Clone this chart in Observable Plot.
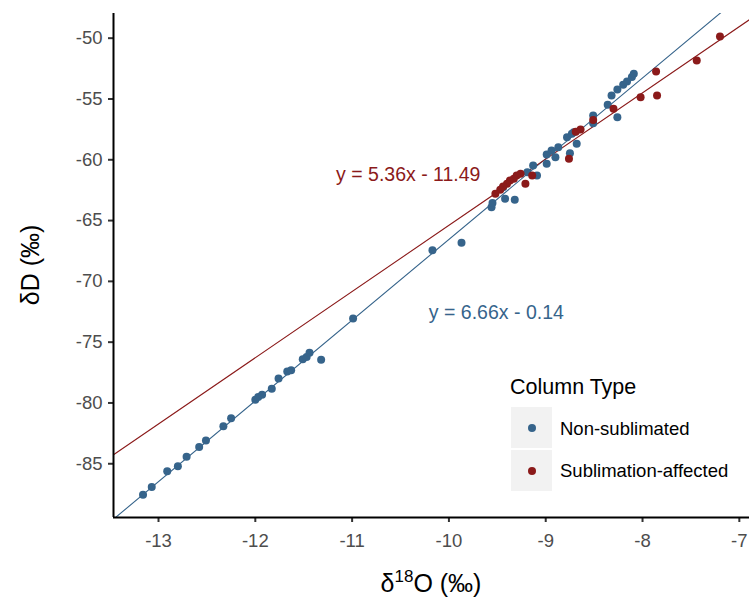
<!DOCTYPE html>
<html>
<head>
<meta charset="utf-8">
<script src="https://cdn.jsdelivr.net/npm/d3@7"></script>
<script src="https://cdn.jsdelivr.net/npm/@observablehq/plot@0.6"></script>
<style>
  html, body { margin: 0; padding: 0; background: #fff; }
  #wrap { position: relative; width: 752px; height: 605px; font-family: "Liberation Sans", Arial, sans-serif; }
  .abs { position: absolute; white-space: nowrap; }
  .key { position: absolute; width: 41px; height: 41px; background: #f2f2f2; }
  .kdot { position: absolute; left: 16.5px; top: 16.5px; width: 8px; height: 8px; border-radius: 50%; }
</style>
</head>
<body>
<div id="wrap"></div>
<script>
// Non-sublimated (blue)
const nonSubX = [-13.16,-13.07,-12.91,-12.80,-12.71,-12.58,-12.51,-12.33,-12.25,-12.00,-11.97,-11.93,-11.83,-11.76,-11.67,-11.63,-11.51,-11.47,-11.44,-11.32,-10.99,-10.17,-9.87,-9.56,-9.55,-9.42,-9.32,-9.44,-9.19,-9.09,-9.13,-8.99,-8.99,-8.94,-8.90,-8.87,-8.75,-8.78,-8.73,-8.68,-8.71,-8.51,-8.51,-8.26,-8.36,-8.32,-8.26,-8.20,-8.16,-8.11,-8.09];
const nonSubY = [-87.55,-86.92,-85.61,-85.20,-84.42,-83.63,-83.08,-81.91,-81.25,-79.74,-79.52,-79.33,-78.83,-77.98,-77.41,-77.30,-76.40,-76.23,-75.87,-76.45,-73.05,-67.45,-66.83,-63.90,-63.55,-63.21,-63.29,-62.25,-61.02,-61.29,-60.47,-60.33,-59.56,-59.24,-59.79,-58.96,-59.46,-58.14,-57.86,-58.69,-57.73,-57.00,-56.36,-56.50,-55.48,-54.71,-54.22,-53.83,-53.56,-53.20,-52.93];
// Sublimation-affected (red)
const subX = [-7.20,-7.44,-7.86,-7.85,-8.02,-8.30,-8.51,-8.64,-8.69,-8.76,-9.14,-9.21,-9.26,-9.30,-9.33,-9.37,-9.40,-9.44,-9.47,-9.52];
const subY = [-49.86,-51.83,-52.74,-54.71,-54.85,-55.81,-56.72,-57.50,-57.70,-59.92,-61.29,-61.97,-61.15,-61.29,-61.57,-61.70,-61.97,-62.20,-62.47,-62.80];

const groups = ["Non-sublimated", "Sublimation-affected"];
const colors = ["#36648B", "#8B1A1A"];
const eqLabels = ["y = 6.66x - 0.14", "y = 5.36x - 11.49"];
const eqX = [-9.51, -10.42];
const eqY = [-72.6, -61.2];

const xTicks = [-13, -12, -11, -10, -9, -8, -7];
const yTicks = [-85, -80, -75, -70, -65, -60, -55, -50];
const xDomain = [-13.465, -6.895];
const yDomain = [-89.42, -47.97];

const seriesX = [nonSubX, subX];
const seriesY = [nonSubY, subY];

const points = [];
groups.forEach((g, i) => seriesX[i].forEach((x, j) => points.push({x, y: seriesY[i][j], g})));

// least-squares fits, drawn over the full x range (fullrange)
function fit(xs, ys) {
  const mx = d3.mean(xs), my = d3.mean(ys);
  let sxy = 0, sxx = 0;
  xs.forEach((x, k) => { sxy += (x - mx) * (ys[k] - my); sxx += (x - mx) ** 2; });
  const b = sxy / sxx;
  return [b, my - b * mx];
}
const fitLines = [];
groups.forEach((g, i) => {
  const [b, a] = fit(seriesX[i], seriesY[i]);
  xDomain.forEach(x => fitLines.push({x, y: a + b * x, g}));
});
const eqs = groups.map((g, i) => ({x: eqX[i], y: eqY[i], text: eqLabels[i], g}));

const plot = Plot.plot({
  width: 752,
  height: 605,
  marginLeft: 113,
  marginRight: 3,
  marginTop: 13,
  marginBottom: 88,
  style: {fontFamily: "Liberation Sans, Arial, sans-serif", background: "white"},
  x: {domain: xDomain, ticks: xTicks, label: null},
  y: {domain: yDomain, ticks: yTicks, label: null},
  color: {domain: groups, range: colors},
  marks: [
    Plot.line(fitLines, {x: "x", y: "y", z: "g", stroke: "g", strokeWidth: 1.1, clip: true}),
    Plot.dot(points, {x: "x", y: "y", fill: "g", r: 4}),
    Plot.text(eqs, {x: "x", y: "y", text: "text", fill: "g", fontSize: 19.5}),
    Plot.axisX({ticks: xTicks, tickSize: 5, tickPadding: 11, strokeWidth: 2, stroke: "#333", fill: "#4d4d4d", fontSize: 18.5, label: null, tickFormat: d => String(d)}),
    Plot.axisY({ticks: yTicks, tickSize: 5, tickPadding: 6, strokeWidth: 2, stroke: "#333", fill: "#4d4d4d", fontSize: 18.5, label: null, tickFormat: d => String(d)}),
    Plot.ruleX([xDomain[0]], {stroke: "black", strokeWidth: 2}),
    Plot.ruleY([yDomain[0]], {stroke: "black", strokeWidth: 2})
  ]
});

const wrap = document.getElementById("wrap");
plot.style.position = "absolute";
plot.style.left = "0px";
plot.style.top = "0px";
wrap.appendChild(plot);

function addText(html, css) {
  const d = document.createElement("div");
  d.className = "abs";
  d.innerHTML = html;
  Object.assign(d.style, css);
  wrap.appendChild(d);
  return d;
}
// Axis titles
addText("δ<sup style='font-size:17px;vertical-align:10px;line-height:0'>18</sup>O (‰)", {left: "431px", top: "583px", transform: "translate(-50%,-50%)", fontSize: "25px", color: "#000"});
addText("δD (‰)", {left: "30px", top: "265px", transform: "translate(-50%,-50%) rotate(-90deg)", fontSize: "25px", color: "#000"});

// Legend
addText("Column Type", {left: "510px", top: "387px", transform: "translateY(-50%)", fontSize: "21.5px", color: "#000"});
groups.forEach((g, i) => {
  const k = document.createElement("div");
  k.className = "key";
  k.style.left = "511px";
  k.style.top = (407 + i * 43) + "px";
  const dot = document.createElement("div");
  dot.className = "kdot";
  dot.style.background = colors[i];
  k.appendChild(dot);
  wrap.appendChild(k);
  addText(g, {left: "560px", top: (428.5 + i * 42) + "px", transform: "translateY(-50%)", fontSize: "18.5px", color: "#000"});
});
</script>
</body>
</html>
